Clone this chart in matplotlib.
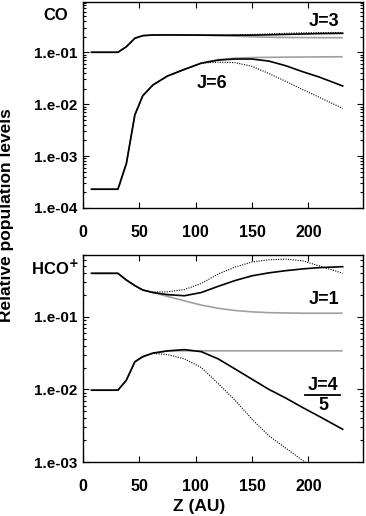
import numpy as np
import matplotlib
matplotlib.use('Agg')
import matplotlib.pyplot as plt
from matplotlib.ticker import FixedLocator, FixedFormatter, LogLocator, NullFormatter

plt.rcParams['font.family'] = ['Liberation Sans', 'DejaVu Sans']
plt.rcParams['font.weight'] = 'bold'

# ---------------- data ----------------
z = [7.5, 31, 38.5, 46, 53, 62, 75, 90, 105, 120, 135, 150, 165, 180, 195, 210, 230.5]

# CO, J=3 group
co_j3_solid = [0.1, 0.1, 0.128, 0.186, 0.209, 0.215, 0.216, 0.215, 0.214, 0.213, 0.213,
               0.214, 0.217, 0.221, 0.225, 0.229, 0.232]
co_j3_dotted = [0.1, 0.1, 0.128, 0.186, 0.209, 0.215, 0.216, 0.215, 0.214, 0.214, 0.216,
                0.220, 0.226, 0.232, 0.237, 0.240, 0.240]
co_j3_gray = [0.1, 0.1, 0.128, 0.186, 0.209, 0.215, 0.216, 0.215, 0.213, 0.209, 0.204,
              0.199, 0.195, 0.193, 0.192, 0.191, 0.191]

# CO, J=6 group
co_j6_solid = [2.3e-4, 2.3e-4, 7.2e-4, 6.2e-3, 0.0145, 0.0234, 0.0349, 0.0468, 0.0617,
               0.0708, 0.0741, 0.0741, 0.0676, 0.0550, 0.0422, 0.0331, 0.0224]
co_j6_dotted = [2.3e-4, 2.3e-4, 7.2e-4, 6.2e-3, 0.0145, 0.0234, 0.0349, 0.0468, 0.0617,
                0.0646, 0.0631, 0.0537, 0.0389, 0.0275, 0.0191, 0.0135, 0.0083]
co_j6_gray = [2.3e-4, 2.3e-4, 7.2e-4, 6.2e-3, 0.0145, 0.0234, 0.0349, 0.0468, 0.0617,
              0.0720, 0.0770, 0.0790, 0.0800, 0.0805, 0.0810, 0.0815, 0.0820]

# HCO+, J=1 group
hco_j1_solid = [0.397, 0.397, 0.321, 0.269, 0.234, 0.216, 0.202, 0.195, 0.216, 0.263,
                0.316, 0.367, 0.403, 0.432, 0.457, 0.476, 0.490]
hco_j1_dotted = [0.397, 0.397, 0.321, 0.269, 0.234, 0.219, 0.221, 0.237, 0.288, 0.389,
                 0.484, 0.569, 0.610, 0.624, 0.589, 0.501, 0.398]
hco_j1_gray = [0.397, 0.397, 0.321, 0.269, 0.234, 0.216, 0.191, 0.166, 0.145, 0.131,
               0.122, 0.117, 0.114, 0.113, 0.112, 0.112, 0.112]

# HCO+, J=4/5 group
hco_j4_solid = [0.00975, 0.00975, 0.0134, 0.0240, 0.0282, 0.0316, 0.0339, 0.0353, 0.0331,
                0.0263, 0.0191, 0.0138, 0.0100, 0.00759, 0.00562, 0.00422, 0.00282]
hco_j4_dotted = [0.00975, 0.00975, 0.0134, 0.0240, 0.0282, 0.0313, 0.0302, 0.0263, 0.0200,
                 0.0120, 0.00708, 0.00389, 0.00229, 0.00155, 0.00105, 0.000708, 0.000316]
hco_j4_gray = [0.00975, 0.00975, 0.0134, 0.0240, 0.0282, 0.0316, 0.0339, 0.0340, 0.0340,
               0.0340, 0.0340, 0.0340, 0.0340, 0.0340, 0.0340, 0.0340, 0.0340]

xticks = [0, 50, 100, 150, 200]
xtick_labels = ['0', '50', '100', '150', '200']
top_yticks = [1e-4, 1e-3, 1e-2, 1e-1]
top_ylabels = ['1.e-04', '1.e-03', '1.e-02', '1.e-01']
bot_yticks = [1e-3, 1e-2, 1e-1]
bot_ylabels = ['1.e-03', '1.e-02', '1.e-01']

# ---------------- figure ----------------
W, H = 366, 516
fig = plt.figure(figsize=(W / 100, H / 100), dpi=100)
ax1 = fig.add_axes([83 / W, 1 - 208 / H, 280 / W, 206 / H])
ax2 = fig.add_axes([83 / W, 1 - 462 / H, 280 / W, 207 / H])

GRAY = '#a0a0a0'


def draw(ax, solid, dotted, gray):
    ax.plot(z, gray, color=GRAY, lw=1.2, solid_capstyle='butt')
    ax.plot(z, dotted, color='black', lw=0.8, linestyle=(0, (1, 1.2)))
    ax.plot(z, solid, color='black', lw=1.2)


def style(ax, ylim, yticks, ylabels):
    ax.set_yscale('log')
    ax.set_xlim(0, 248.5)
    ax.set_ylim(*ylim)
    ax.xaxis.set_major_locator(FixedLocator(xticks))
    ax.xaxis.set_major_formatter(FixedFormatter(xtick_labels))
    ax.yaxis.set_major_locator(FixedLocator(yticks))
    ax.yaxis.set_major_formatter(FixedFormatter(ylabels))
    ax.yaxis.set_minor_locator(LogLocator(base=10, subs=np.arange(2, 10)))
    ax.yaxis.set_minor_formatter(NullFormatter())
    ax.tick_params(which='both', direction='in', top=True, right=True, width=0.8)
    ax.tick_params(which='major', length=4.5)
    ax.tick_params(which='minor', length=2.5)
    ax.tick_params(axis='x', pad=12, labelsize=11.5)
    ax.tick_params(axis='y', pad=4, labelsize=11)
    for s in ax.spines.values():
        s.set_linewidth(1.0)


draw(ax1, co_j3_solid, co_j3_dotted, co_j3_gray)
draw(ax1, co_j6_solid, co_j6_dotted, co_j6_gray)
style(ax1, (1e-4, 0.93), top_yticks, top_ylabels)

draw(ax2, hco_j1_solid, hco_j1_dotted, hco_j1_gray)
draw(ax2, hco_j4_solid, hco_j4_dotted, hco_j4_gray)
style(ax2, (1e-3, 0.71), bot_yticks, bot_ylabels)


def ftext(px, py, s, **kw):
    fig.text(px / W, 1 - py / H, s, ha='center', va='center', **kw)


ftext(56, 15, 'CO', fontsize=12)
ftext(55, 268, r'HCO$^{\mathbf{+}}$', fontsize=12)
ftext(324, 21, 'J=3', fontsize=13)
ftext(212, 83, 'J=6', fontsize=13)
ftext(324, 300, 'J=1', fontsize=13)
ftext(323, 386, 'J=4', fontsize=13)
fig.add_artist(plt.Line2D([305 / W, 340 / W], [1 - 395 / H, 1 - 395 / H],
                          color='black', lw=1.3))
ftext(323, 406, '5', fontsize=13)

ftext(7, 215, 'Relative population levels', fontsize=12.5, rotation=90)
ftext(199, 506, 'Z (AU)', fontsize=12.5)

fig.savefig('out.png', dpi=100)
